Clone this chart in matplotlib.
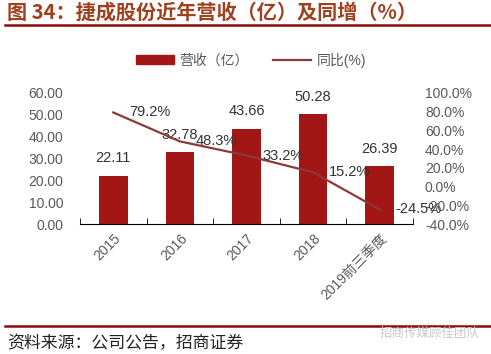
import matplotlib
matplotlib.use('Agg')
import matplotlib.pyplot as plt
from matplotlib.lines import Line2D
from matplotlib.patches import Patch

plt.rcParams['font.family'] = ['Liberation Sans', 'Noto Sans CJK SC', 'DejaVu Sans']

years = ['2015', '2016', '2017', '2018', '2019前三季度']
revenue = [22.11, 32.78, 43.66, 50.28, 26.39]
growth = [79.2, 48.3, 33.2, 15.2, -24.5]

left_ticks = [0, 10, 20, 30, 40, 50, 60]
right_ticks = [-40, -20, 0, 20, 40, 60, 80, 100]

bar_color = '#A31616'
line_color = '#8B3A3A'
gray = '#595959'

W, H = 491, 354
fig = plt.figure(figsize=(W / 100, H / 100), dpi=100)
ax = fig.add_axes([80 / W, 1 - 224 / H, 333 / W, 131 / H])
ax2 = ax.twinx()

x = list(range(len(years)))
ax.bar(x, revenue, width=0.43, color=bar_color, zorder=2)
ax.set_xlim(-0.5, len(years) - 0.5)
ax.set_ylim(0, 60)
ax.set_yticks(left_ticks)
ax.set_yticklabels(['%.2f' % t for t in left_ticks])

for xi, v in zip(x, revenue):
    ax.annotate('%.2f' % v, (xi, v), xytext=(0, 12.6), textcoords='offset points',
                ha='center', va='center', fontsize=10.5, color='#333333')

ax2.plot(x, growth, color=line_color, lw=1.6)
ax2.set_ylim(-40, 100)
ax2.set_yticks(right_ticks)
ax2.set_yticklabels(['%.1f%%' % t for t in right_ticks])
for xi, v in zip(x, growth):
    ax2.annotate('%.1f%%' % v, (xi, v), xytext=(11.5, 0), textcoords='offset points',
                 ha='left', va='center', fontsize=10.5, color='#333333')

for a in (ax, ax2):
    for s in a.spines.values():
        s.set_visible(False)
ax.spines['bottom'].set_visible(True)
ax.spines['bottom'].set_color('black')

ax.set_xticks(x)
ax.set_xticklabels(years, rotation=45, ha='right', va='top', rotation_mode='anchor',
                   color=gray, fontsize=10)
ax.tick_params(axis='x', length=0, pad=5)
ax.set_xticks([i - 0.5 for i in range(len(years) + 1)], minor=True)
ax.tick_params(axis='x', which='minor', direction='in', length=4, color='black')
ax.tick_params(axis='y', length=0, pad=12, labelcolor=gray, labelsize=10)
ax2.tick_params(axis='y', length=0, pad=8.6, labelcolor=gray, labelsize=10)

handles = [Patch(color=bar_color), Line2D([], [], color=line_color, lw=1.6)]
fig.legend(handles, ['营收（亿）', '同比(%)'], loc='center', bbox_to_anchor=(251 / W, 1 - 60 / H),
           ncol=2, frameon=False, fontsize=10, labelcolor=gray, handlelength=2.7,
           handleheight=0.6, handletextpad=0.4, columnspacing=1.8)

# title and decorations
fig.text(7 / W, 1 - 12 / H, '图 34：捷成股份近年营收（亿）及同增（%）', ha='left', va='center',
         fontsize=14.5, fontweight='bold', color='#A0401F', family=['Noto Sans CJK SC'])
fig.add_artist(Line2D([5 / W, 1], [1 - 25 / H] * 2, color='#8B0A0A', lw=1.8))
fig.add_artist(Line2D([5 / W, 1], [1 - 326 / H] * 2, color='#8B0A0A', lw=1.8))
fig.text(7 / W, 1 - 343 / H, '资料来源：公司公告，招商证券', ha='left', va='center',
         fontsize=12.2, color='#222222', family=['Noto Sans CJK SC'])
fig.text(380 / W, 1 - 333 / H, '招商传媒顾佳团队', ha='left', va='center',
         fontsize=9, color='#c8c8c8', family=['Noto Sans CJK SC'])

fig.savefig('out.png', dpi=100)
